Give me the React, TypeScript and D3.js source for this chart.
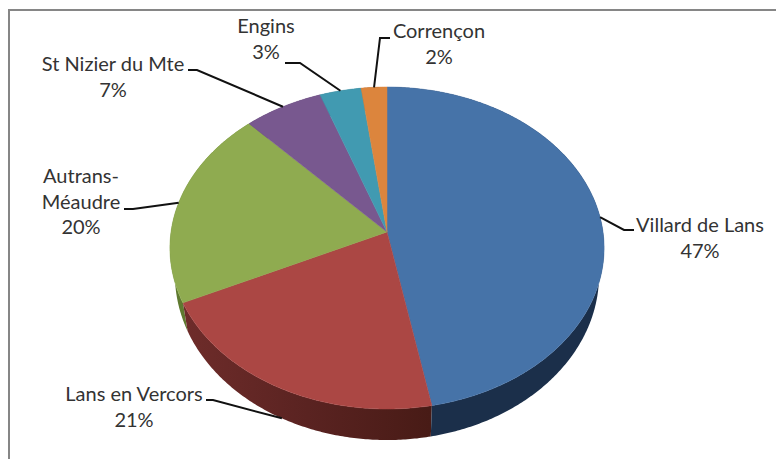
import * as d3 from 'd3'

const communes = ['Villard de Lans', 'Lans en Vercors', 'Autrans-Méaudre', 'St Nizier du Mte', 'Engins', 'Corrençon']
const shares = [47, 21, 20, 6.5, 3.4, 2.1]
const topColors = ['#4673a8', '#ab4744', '#8fab50', '#78588f', '#419ab1', '#dc853d']
const sideColors = ['#1b2f4a', 'url(#redSide)', '#5f7a30', '#4a3460', '#28606e', '#8a5020']

// label placement: text lines, centre x, first baseline, leader elbow and end
const labelLines = [['Villard de Lans'], ['Lans en Vercors'], ['Autrans-', 'Méaudre'], ['St Nizier du Mte'], ['Engins'], ['Corrençon']]
const labelX = [700, 134, 81, 113, 266, 439]
const labelY = [232, 401, 183, 71, 33, 38]
const elbows = [[624, 230], [213, 400], [133, 209], [197, 70], [300, 63], [380, 38]]
const leaderEnds = [[634, 230], [206, 400], [124, 209], [188, 70], [285, 63], [390, 38]]

const width = 776
const height = 459
const cx = 387
const tilt = 0.0994 // perspective: the near edge of the disc is drawn larger

const topFace = { a: 216, b: 159.4, c: 232 }
const bottomFace = { a: 211, b: 163.4, c: 258.6 }

type Face = typeof topFace

// angle is clockwise from 12 o'clock, as d3.pie gives it
const project = (face: Face, angle: number): [number, number] => {
  const u = Math.sin(angle)
  const v = -Math.cos(angle)
  const w = 1 - tilt * v
  return [cx + (face.a * u) / w, face.c + (face.b * v) / w]
}

const arcPoints = (face: Face, start: number, end: number) => {
  const n = Math.max(2, Math.ceil((end - start) / 0.01))
  return d3.range(n + 1).map(i => project(face, start + ((end - start) * i) / n))
}

const line = d3.line()
const slices = d3.pie<number>().sort(null)(shares)
const fmt = d3.format('.0f')

// only the front of the wall shows, the top face hides the rest
const sideOrder = [2, 3, 4, 5, 1, 0]

export default function App() {
  return (
    <svg
      width={width}
      height={height}
      style={{ position: 'absolute', left: 0, top: 0, background: '#fff' }}
      fontFamily="Lato, sans-serif"
      fontSize={20}
    >
      <defs>
        <linearGradient id="redSide" gradientUnits="userSpaceOnUse" x1={185} x2={430} y1={0} y2={0}>
          <stop offset="0" stopColor="#6e2c2a" />
          <stop offset="0.5" stopColor="#5a2321" />
          <stop offset="1" stopColor="#481b16" />
        </linearGradient>
      </defs>

      <path d="M9 459V10H776" fill="none" stroke="#868686" strokeWidth={2} />

      {sideOrder.map(i => {
        const s = slices[i]
        const pts = [...arcPoints(topFace, s.startAngle, s.endAngle), ...arcPoints(bottomFace, s.startAngle, s.endAngle).reverse()]
        return <path key={i} d={line(pts) + 'Z'} fill={sideColors[i]} />
      })}

      {slices.map((s, i) => (
        <path
          key={i}
          d={line([[cx, topFace.c], ...arcPoints(topFace, s.startAngle, s.endAngle)]) + 'Z'}
          fill={topColors[i]}
          stroke={topColors[i]}
          strokeWidth={0.5}
        />
      ))}

      {slices.map((s, i) => {
        const mid = (s.startAngle + s.endAngle) / 2
        const anchor = project(communes[i] === 'Lans en Vercors' ? bottomFace : topFace, mid)
        return (
          <path
            key={i}
            d={line([anchor, elbows[i] as [number, number], leaderEnds[i] as [number, number]]) ?? ''}
            fill="none"
            stroke="#111"
            strokeWidth={2}
          />
        )
      })}

      {communes.map((name, i) => (
        <text key={name} x={labelX[i]} y={labelY[i]} textAnchor="middle" fill="#333">
          {labelLines[i].map((t, j) => (
            <tspan key={j} x={labelX[i]} dy={j === 0 ? 0 : 25.5}>{t}</tspan>
          ))}
          <tspan x={labelX[i]} dy={25.5}>{fmt(shares[i])}%</tspan>
        </text>
      ))}
    </svg>
  )
}
